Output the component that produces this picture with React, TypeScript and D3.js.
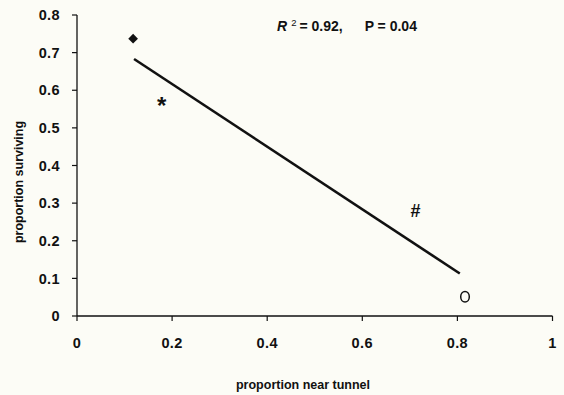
import React from "react";
import * as d3 from "d3";

const xTicks = [0, 0.2, 0.4, 0.6, 0.8, 1];
const yTicks = [0, 0.1, 0.2, 0.3, 0.4, 0.5, 0.6, 0.7, 0.8];
const diamondPoint = { x: 0.118, y: 0.737 };
const circlePoint = { x: 0.816, y: 0.051 };
const fitLine = [
  { x: 0.12, y: 0.683 },
  { x: 0.805, y: 0.113 },
];
const markers = [
  { label: "*", x: 0.178, y: 0.585 },
  { label: "#", x: 0.712, y: 0.28 },
];
const statsText = { r2: "0.92", p: "0.04" };

export default function App() {
  const W = 564,
    H = 395;
  const x = d3.scaleLinear().domain([0, 1]).range([77, 552.5]);
  const y = d3.scaleLinear().domain([0, 0.8]).range([316, 15]);
  const line = d3
    .line<{ x: number; y: number }>()
    .x((d) => x(d.x))
    .y((d) => y(d.y));
  const font = "Arial, 'Liberation Sans', Helvetica, sans-serif";
  const diamond = d3.symbol().type(d3.symbolDiamond2).size(60)();
  return (
    <svg
      width={W}
      height={H}
      style={{ position: "absolute", left: 0, top: 0, background: "#fcfcf6" }}
      fontFamily={font}
    >
      <rect width={W} height={H} fill="#fcfcf6" />
      <line x1={x(0)} x2={x(0)} y1={y(0.8)} y2={y(0)} stroke="#111" strokeWidth={1.3} />
      <line x1={x(0)} x2={x(1)} y1={y(0)} y2={y(0)} stroke="#111" strokeWidth={1.3} />
      {yTicks.map((t) => (
        <g key={"y" + t}>
          <line x1={x(0) - 5} x2={x(0)} y1={y(t)} y2={y(t)} stroke="#111" strokeWidth={1.2} />
          <text
            x={x(0) - 17}
            y={y(t)}
            dy="0.36em"
            textAnchor="end"
            fontSize={14.5}
            fontWeight="bold"
            fill="#111"
            letterSpacing={0.4}
          >
            {t === 0 ? "0" : t.toFixed(1)}
          </text>
        </g>
      ))}
      {xTicks.map((t) => (
        <g key={"x" + t}>
          <line x1={x(t)} x2={x(t)} y1={y(0)} y2={y(0) + 5} stroke="#111" strokeWidth={1.2} />
          <text
            x={x(t)}
            y={343}
            dy="0.36em"
            textAnchor="middle"
            fontSize={14.5}
            fontWeight="bold"
            fill="#111"
            letterSpacing={0.4}
          >
            {t === 0 || t === 1 ? String(t) : t.toFixed(1)}
          </text>
        </g>
      ))}
      <text
        x={303}
        y={384}
        dy="0.36em"
        textAnchor="middle"
        fontSize={12.5}
        fontWeight="bold"
        fill="#111"
      >
        proportion near tunnel
      </text>
      <text
        transform={`translate(18,182) rotate(-90)`}
        dy="0.36em"
        textAnchor="middle"
        fontSize={12.5}
        fontWeight="bold"
        fill="#111"
      >
        proportion surviving
      </text>
      <path d={line(fitLine) || ""} fill="none" stroke="#111" strokeWidth={2.6} />
      <path
        d={diamond || ""}
        transform={`translate(${x(diamondPoint.x)},${y(diamondPoint.y)})`}
        fill="#111"
      />
      <ellipse
        cx={x(circlePoint.x)}
        cy={y(circlePoint.y)}
        rx={4.3}
        ry={5.3}
        fill="none"
        stroke="#111"
        strokeWidth={1.5}
      />
      {markers.map((m) => (
        <text
          key={m.label}
          x={x(m.x)}
          y={y(m.y)}
          dy={m.label === "*" ? "0.75em" : "0.36em"}
          textAnchor="middle"
          fontSize={m.label === "*" ? 24 : 18}
          fontWeight="bold"
          fill="#111"
        >
          {m.label}
        </text>
      ))}
      <text x={277} y={31} fontSize={14} fontWeight="bold" fill="#111">
        <tspan fontStyle="italic">R</tspan>
        <tspan dx={4} dy={-5} fontSize={9.5} fontWeight="normal">2</tspan>
        <tspan dx={3} dy={5}>{`= ${statsText.r2},`}</tspan>
        <tspan dx={22}>{`P = ${statsText.p}`}</tspan>
      </text>
    </svg>
  );
}
